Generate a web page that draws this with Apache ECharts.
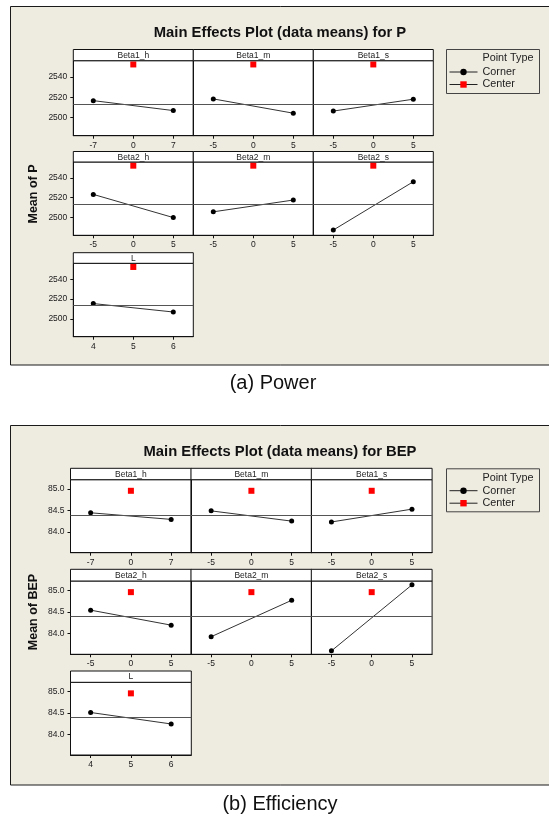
<!DOCTYPE html>
<html><head><meta charset="utf-8">
<script src="https://cdn.jsdelivr.net/npm/echarts@6/dist/echarts.min.js"></script>
<style>html,body{margin:0;padding:0;background:#fff}#c{width:549px;height:816px}</style>
</head><body><div id="c"></div>
<script>
// ---------- data ----------
const factors = ['Beta1_h', 'Beta1_m', 'Beta1_s', 'Beta2_h', 'Beta2_m', 'Beta2_s', 'L'];
const levelLow = [-7, -5, -5, -5, -5, -5, 4];
const levelCenter = [0, 0, 0, 0, 0, 0, 5];
const levelHigh = [7, 5, 5, 5, 5, 5, 6];
const xTickLabels = [[-7, 0, 7], [-5, 0, 5], [-5, 0, 5], [-5, 0, 5], [-5, 0, 5], [-5, 0, 5], [4, 5, 6]];
const xRanges = [[-10.5, 10.5], [-7.5, 7.5], [-7.5, 7.5], [-7.5, 7.5], [-7.5, 7.5], [-7.5, 7.5], [3.5, 6.5]];

const powerLow  = [2516.6, 2518.3, 2506.3, 2523.3, 2505.7, 2487.3, 2515.4];
const powerHigh = [2506.8, 2504.2, 2518.0, 2499.9, 2517.6, 2536.1, 2506.9];
const powerCenter = 2552.3;
const powerMean = 2513.3;
const powerTicks = [2500, 2520, 2540];
const powerRange = [2482, 2556];

const bepLow  = [84.445, 84.49, 84.23, 84.54, 83.92, 83.59, 84.51];
const bepHigh = [84.29, 84.25, 84.53, 84.19, 84.77, 85.13, 84.24];
const bepCenter = 84.96;
const bepMean = 84.39;
const bepTicks = [84.0, 84.5, 85.0];
const bepRange = [83.51, 85.22];

const titles = ['Main Effects Plot (data means) for P', 'Main Effects Plot (data means) for BEP'];
const yTitles = ['Mean of P', 'Mean of BEP'];
const captions = ['(a) Power', '(b) Efficiency'];
const legendTitle = 'Point Type';
const legendNames = ['Corner', 'Center'];

// ---------- layout (styling only) ----------
const FONT = 'Liberation Sans';
const BG = '#EEEBE1';
const figs = [
  {
    low: powerLow, high: powerHigh, center: powerCenter, mean: powerMean, ticks: powerTicks, range: powerRange,
    fmt: v => String(Math.round(v)),
    colLeft: [73.3, 193.3, 313.3], colW: 120,
    rows: [{ht: 49.5, pt: 60.7, pb: 135.7}, {ht: 151.5, pt: 162, pb: 235.3}, {ht: 252.7, pt: 263.3, pb: 336.7}],
    frame: [10.5, 6.5, 365], titleXY: [280, 32.5], yTitleXY: [34, 194], captionXY: [273, 383],
    legendBox: [446, 49, 93, 44], legendTitleY: 58, legendTop: 66
  },
  {
    low: bepLow, high: bepHigh, center: bepCenter, mean: bepMean, ticks: bepTicks, range: bepRange,
    fmt: v => v.toFixed(1),
    colLeft: [70.5, 191, 311.3], colW: 120.8,
    rows: [{ht: 468.3, pt: 479.7, pb: 552.7}, {ht: 569.3, pt: 581, pb: 654.3}, {ht: 671, pt: 682.3, pb: 755}],
    frame: [10.5, 425.5, 785], titleXY: [280, 451.5], yTitleXY: [34, 612], captionXY: [280, 804],
    legendBox: [446, 468.3, 93, 43], legendTitleY: 477.7, legendTop: 484.7
  }
];

const grid = [], xAxis = [], yAxis = [], series = [], graphic = [], legend = [];
let gi = 0;
figs.forEach((f, fi) => {
  // frame
  graphic.push({type: 'rect', z: -10, shape: {x: f.frame[0], y: f.frame[1], width: 560, height: f.frame[2] - f.frame[1]},
    style: {fill: BG, stroke: '#1a1a1a', lineWidth: 1}});
  graphic.push({type: 'text', z: 10, x: f.titleXY[0], y: f.titleXY[1],
    style: {text: titles[fi], font: 'bold 14.8px "' + FONT + '"', fill: '#111', textAlign: 'center', textVerticalAlign: 'middle'}});
  graphic.push({type: 'text', z: 10, x: f.yTitleXY[0], y: f.yTitleXY[1], rotation: Math.PI / 2,
    style: {text: yTitles[fi], font: 'bold 12.5px "' + FONT + '"', fill: '#111', textAlign: 'center', textVerticalAlign: 'middle'}});
  graphic.push({type: 'text', z: 10, x: f.captionXY[0], y: f.captionXY[1],
    style: {text: captions[fi], font: '20px "' + FONT + '"', fill: '#111', textAlign: 'center', textVerticalAlign: 'middle'}});
  // legend box
  const lb = f.legendBox;
  graphic.push({type: 'rect', z: 5, shape: {x: lb[0] + 0.5, y: lb[1] + 0.5, width: lb[2], height: lb[3]},
    style: {fill: BG, stroke: '#444', lineWidth: 1}});
  graphic.push({type: 'text', z: 10, x: 482.5, y: f.legendTitleY,
    style: {text: legendTitle, font: '10.8px "' + FONT + '"', fill: '#222', textAlign: 'left', textVerticalAlign: 'middle'}});
  legend.push({
    orient: 'vertical', left: 449, top: f.legendTop, z: 20, padding: 0,
    itemWidth: 28, itemHeight: 8, itemGap: 0.5, selectedMode: false,
    data: legendNames,
    lineStyle: {width: 1, color: '#222'},
    textStyle: {fontFamily: FONT, fontSize: 10.8, color: '#222', lineHeight: 12}
  });

  factors.forEach((name, k) => {
    const r = f.rows[Math.floor(k / 3)], c = k % 3;
    const left = f.colLeft[c];
    grid.push({left: left, top: r.pt, width: f.colW, height: r.pb - r.pt, show: true,
      backgroundColor: '#fff', borderColor: '#111', borderWidth: 1, containLabel: false});
    // header strip
    graphic.push({type: 'rect', z: 5, shape: {x: left, y: r.ht, width: f.colW, height: r.pt - r.ht},
      style: {fill: '#fff', stroke: '#111', lineWidth: 1}});
    graphic.push({type: 'text', z: 10, x: left + f.colW / 2, y: (r.ht + r.pt) / 2 + 0.5,
      style: {text: name, font: '8.5px "' + FONT + '"', fill: '#222', textAlign: 'center', textVerticalAlign: 'middle'}});
    xAxis.push({
      gridIndex: gi, type: 'value', min: xRanges[k][0], max: xRanges[k][1],
      axisLine: {show: true, onZero: false, lineStyle: {color: '#111', width: 1}},
      axisTick: {show: true, length: 3, customValues: xTickLabels[k], lineStyle: {color: '#111'}},
      axisLabel: {show: true, customValues: xTickLabels[k], fontFamily: FONT, fontSize: 8.5, color: '#1a1a1a', margin: 5},
      splitLine: {show: false}
    });
    yAxis.push({
      gridIndex: gi, type: 'value', min: f.range[0], max: f.range[1],
      axisLine: {show: true, onZero: false, lineStyle: {color: '#111', width: 1}},
      axisTick: {show: c === 0, length: 3, customValues: f.ticks, lineStyle: {color: '#111'}},
      axisLabel: {show: c === 0, customValues: f.ticks, fontFamily: FONT, fontSize: 8.5, color: '#1a1a1a', margin: 6,
        formatter: f.fmt},
      splitLine: {show: false}
    });
    series.push({
      type: 'line', name: legendNames[0], xAxisIndex: gi, yAxisIndex: gi,
      data: [[levelLow[k], f.low[k]], [levelHigh[k], f.high[k]]],
      symbol: 'circle', symbolSize: 5, showSymbol: true,
      itemStyle: {color: '#000'}, lineStyle: {color: '#333', width: 1},
      markLine: {silent: true, symbol: ['none', 'none'], label: {show: false},
        lineStyle: {color: '#555', type: 'solid', width: 1.2}, data: [{yAxis: f.mean}]},
      animation: false, z: 3
    });
    series.push({
      type: 'line', name: legendNames[1], xAxisIndex: gi, yAxisIndex: gi,
      data: [[levelCenter[k], f.center]],
      symbol: 'rect', symbolSize: 6, showSymbol: true,
      itemStyle: {color: '#FF0000'}, lineStyle: {color: '#333', width: 1},
      animation: false, z: 4
    });
    gi++;
  });
});

const chart = echarts.init(document.getElementById('c'), null, {renderer: 'canvas', width: 549, height: 816});
chart.setOption({
  backgroundColor: '#fff',
  animation: false,
  grid, xAxis, yAxis, series, legend, graphic
});
</script>
</body></html>
